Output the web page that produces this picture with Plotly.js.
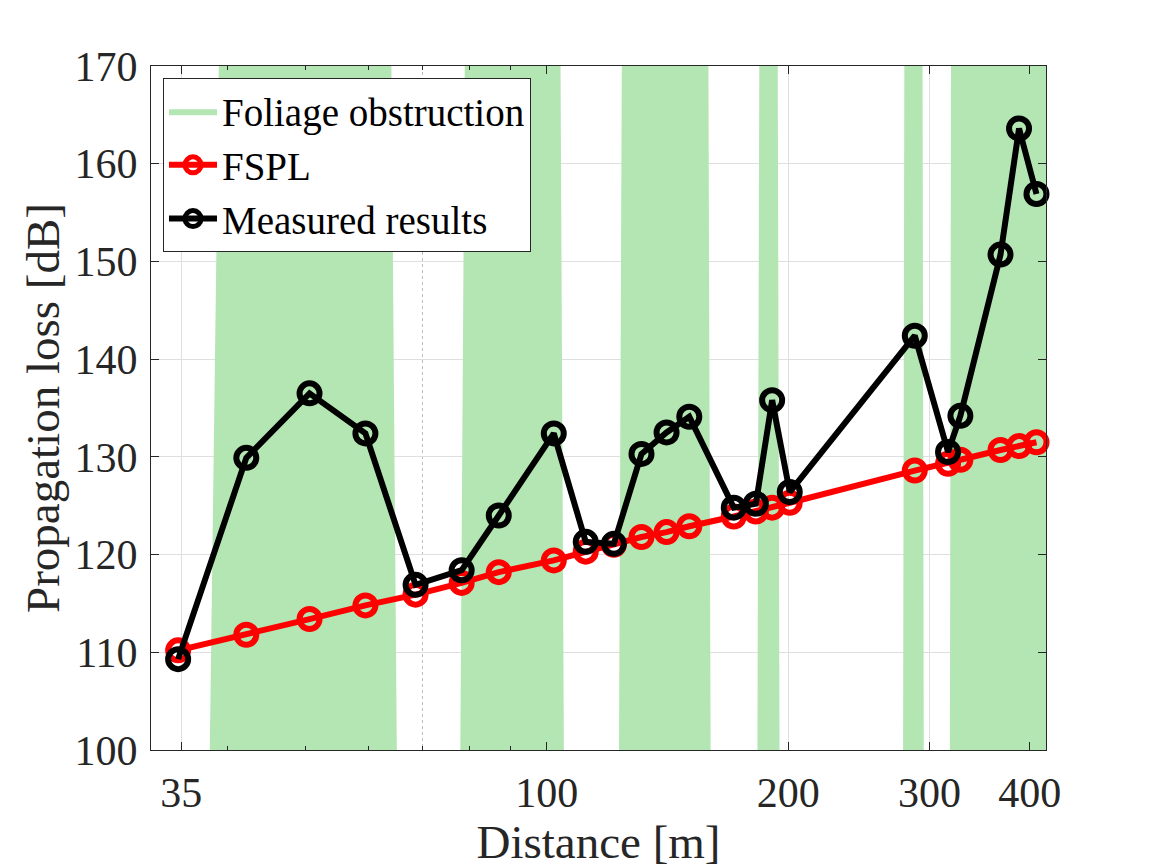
<!DOCTYPE html>
<html>
<head>
<meta charset="utf-8">
<script src="https://cdn.plot.ly/plotly-3.0.1.min.js"></script>
<style>
  html, body { margin: 0; padding: 0; background: #ffffff; }
  #chart { width: 1157px; height: 868px; }
</style>
</head>
<body>
<div id="chart"></div>
<script>
// ---- Data ----
const distance = [34.7, 42.2, 50.6, 59.4, 68.6, 78.3, 87.1, 102.0, 111.8, 121.2, 131.2, 141.0,
                  150.5, 171.0, 182.2, 190.9, 200.8, 287.5, 316.3, 327.7, 367.7, 387.8, 407.7];
const fsplLoss = [110.2, 111.8, 113.4, 114.8, 115.9, 117.1, 118.2, 119.4, 120.3, 121.0, 121.8, 122.3,
                  122.9, 123.9, 124.4, 124.8, 125.3, 128.6, 129.3, 129.7, 130.7, 131.1, 131.5];
const measuredLoss = [109.3, 129.9, 136.5, 132.4, 116.9, 118.4, 124.0, 132.4, 121.3, 121.1, 130.3, 132.5,
                      134.1, 124.8, 125.2, 135.8, 126.4, 142.4, 130.5, 134.2, 150.7, 163.6, 156.9];

// Foliage obstruction bands (distance at the bottom and top of each band edge)
const bandStartBottom = [38, 78, 123, 183, 278, 318];
const bandStartTop    = [39, 79, 124, 184, 279, 319];
const bandEndBottom   = [65, 105, 160, 195, 295, 440];
const bandEndTop      = [64, 104, 159, 194, 294, 440];

const xTickVals = [35, 100, 200, 300, 400];
const xTickText = ['35', '100', '200', '300', '400'];
const xMinorTickVals = [40, 50, 60, 70, 80, 90];
const yTickVals = [100, 110, 120, 130, 140, 150, 160, 170];
const xLimits = [32.1, 419];
const yLimits = [100, 170];

const seriesNames = ['Foliage obstruction', 'FSPL', 'Measured results'];

// ---- Build band polygons ----
const bandX = [], bandY = [];
for (let i = 0; i < bandStartBottom.length; i++) {
  bandX.push(bandStartBottom[i], bandEndBottom[i], bandEndTop[i], bandStartTop[i], bandStartBottom[i], null);
  bandY.push(yLimits[0], yLimits[0], yLimits[1], yLimits[1], yLimits[0], null);
}

const FONT = '"Liberation Serif", "Times New Roman", serif';
const AXC = '#262626';

const traces = [
  {
    x: bandX, y: bandY, type: 'scatter', mode: 'lines',
    fill: 'toself', fillcolor: '#b3e6b3',
    line: { width: 0, color: '#b3e6b3' },
    name: seriesNames[0], hoverinfo: 'skip'
  },
  {
    x: distance, y: fsplLoss, type: 'scatter', mode: 'lines+markers',
    name: seriesNames[1], cliponaxis: false,
    line: { color: '#ff0000', width: 6 },
    marker: { symbol: 'circle-open', size: 20, color: '#ff0000', line: { width: 6, color: '#ff0000' } }
  },
  {
    x: distance, y: measuredLoss, type: 'scatter', mode: 'lines+markers',
    name: seriesNames[2], cliponaxis: false,
    line: { color: '#000000', width: 6 },
    marker: { symbol: 'circle-open', size: 20, color: '#000000', line: { width: 6, color: '#000000' } }
  }
];

const layout = {
  width: 1157, height: 868,
  margin: { l: 151, r: 111, t: 66, b: 118, pad: 0 },
  paper_bgcolor: '#ffffff', plot_bgcolor: '#ffffff',
  font: { family: FONT, color: AXC, size: 42 },
  showlegend: true,
  legend: {
    x: 0.0134, y: 0.982, xanchor: 'left', yanchor: 'top',
    bgcolor: '#ffffff', bordercolor: AXC, borderwidth: 1,
    font: { family: FONT, size: 39, color: '#000000' },
    itemwidth: 48, tracegroupgap: 0
  },
  xaxis: {
    type: 'log',
    range: [Math.log10(xLimits[0]), Math.log10(xLimits[1])],
    tickmode: 'array', tickvals: xTickVals, ticktext: xTickText,
    ticks: 'inside', ticklen: 8, tickwidth: 1, tickcolor: AXC,
    showline: true, linecolor: AXC, linewidth: 1, mirror: 'ticks',
    showgrid: true, gridcolor: '#dfdfdf', gridwidth: 1,
    zeroline: false,
    tickfont: { family: FONT, size: 42, color: AXC },
    ticklabelstandoff: 6,
    minor: {
      tickmode: 'array', tickvals: xMinorTickVals,
      ticks: 'inside', ticklen: 4, tickwidth: 1, tickcolor: AXC,
      showgrid: true, gridcolor: '#bdbdbd', griddash: 'dot', gridwidth: 1
    },
    title: { text: 'Distance [m]', font: { family: FONT, size: 47, color: AXC }, standoff: 8 }
  },
  yaxis: {
    range: yLimits,
    tickmode: 'array', tickvals: yTickVals,
    ticks: 'inside', ticklen: 8, tickwidth: 1, tickcolor: AXC,
    showline: true, linecolor: AXC, linewidth: 1, mirror: 'ticks',
    showgrid: true, gridcolor: '#dfdfdf', gridwidth: 1,
    zeroline: false,
    tickfont: { family: FONT, size: 42, color: AXC },
    ticklabelstandoff: 4,
    title: { text: 'Propagation loss [dB]', font: { family: FONT, size: 47, color: AXC }, standoff: 0 }
  }
};

Plotly.newPlot('chart', traces, layout, { displayModeBar: false, staticPlot: true });
</script>
</body>
</html>
